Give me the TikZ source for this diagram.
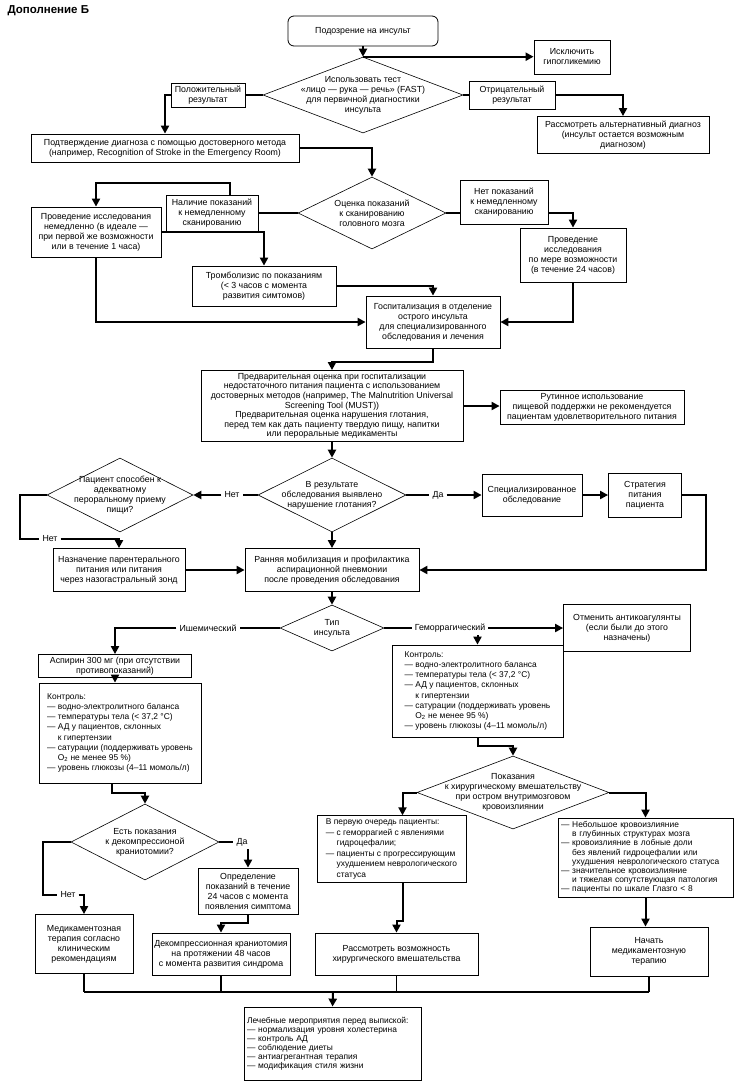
\documentclass[tikz,border=0pt]{standalone}
\usepackage{fontspec}
\setmainfont{Liberation Sans}
\usetikzlibrary{arrows.meta,shapes.geometric}
\newcommand{\cont}{\hphantom{— }}

\begin{document}
\begin{tikzpicture}[x=1pt,y=-1pt,
  font=\fontsize{8.8}{10}\selectfont,
  box/.style={draw,line width=.8pt,fill=white,align=center,inner sep=1pt},
  tag/.style={box},
  lst/.style={draw,line width=.8pt,fill=white,align=left,inner sep=3pt,font=\fontsize{8.4}{10.2}\selectfont},
  dia/.style={draw,diamond,line width=.6pt,inner sep=0pt},
  word/.style={inner sep=3pt},
  conn/.style={line width=2pt},
  thinconn/.style={line width=1.2pt},
  arr/.style={conn,-{Triangle[length=8pt,width=8pt]}}]

  \useasboundingbox (0,0) rectangle (739,1088);

  \node[anchor=west,font=\fontsize{11.5}{13}\selectfont\bfseries] (title) at (4,11) {Дополнение Б};

  \node[box,rounded corners=6pt,minimum width=150pt,minimum height=30pt] (susp) at (363,31) {Подозрение на инсульт};
  \node[dia,minimum width=200pt,minimum height=76pt] (fast) at (363,95) {};
  \node[align=center] (fasttxt) at (fast) {Использовать тест\\«лицо — рука — речь» (FAST)\\для первичной диагностики\\инсульта};
  \node[box,minimum width=76pt,minimum height=34pt] (hypo) at (572,57) {Исключить\\гипогликемию};
  \node[tag,minimum width=74pt,minimum height=24pt] (posl) at (208,95) {Положительный\\результат};
  \node[tag,minimum width=86pt,minimum height=28pt] (negl) at (512,95) {Отрицательный\\результат};
  \node[box,minimum width=172pt,minimum height=37pt] (alt) at (623,135) {Рассмотреть альтернативный диагноз\\(инсульт остается возможным\\диагнозом)};
  \node[box,minimum width=268pt,minimum height=28pt] (confirm) at (165,148) {Подтверждение диагноза с помощью достоверного метода\\(например, Recognition of Stroke in the Emergency Room)};

  \draw[arr] (susp) -- (fast.north);
  \draw[arr] (fast.north) -- (fast.north -| hypo.west);
  \draw[conn] (fast.west) -- (posl);
  \draw[arr] (posl) -| (confirm.north);
  \draw[conn] (fast.east) -- (negl);
  \draw[arr] (negl) -| (alt.north);

  \node[dia,minimum width=148pt,minimum height=72pt] (scan) at (372,213) {};
  \node[align=center] (scantxt) at (scan) {Оценка показаний\\к сканированию\\головного мозга};
  \node[tag,minimum width=92pt,minimum height=36pt] (yesl) at (212,213) {Наличие показаний\\к немедленному\\сканированию};
  \node[tag,minimum width=88pt,minimum height=44pt] (nol) at (504,202) {Нет показаний\\к немедленному\\сканированию};
  \node[box,minimum width=130pt,minimum height=50pt] (imm) at (96,232) {Проведение исследования\\немедленно (в идеале —\\при первой же возможности\\или в течение 1 часа)};
  \node[box,minimum width=144pt,minimum height=40pt] (thromb) at (264,286) {Тромболизис по показаниям\\(< 3 часов с момента\\развития симтомов)};
  \node[box,minimum width=134pt,minimum height=52pt] (hosp) at (433,322) {Госпитализация в отделение\\острого инсульта\\для специализированного\\обследования и лечения};
  \node[box,minimum width=106pt,minimum height=54pt] (later) at (573,255) {Проведение\\исследования\\по мере возможности\\(в течение 24 часов)};

  \draw[arr] (confirm.east) -| (scan.north);
  \draw[conn] (scan.west) -- (yesl);
  \draw[arr] ([xshift=18pt]yesl.north) -- ++(0,-12) -| (imm.north);
  \draw[conn] (scan.east) -- (scan.east -| nol.west);
  \draw[arr] (scan.east -| nol.east) -| (later.north);
  \draw[arr] (imm.east) -| (thromb.north);
  \draw[arr] (thromb.east) -| (hosp.north);
  \draw[arr] (imm.south) |- (hosp.west);
  \draw[arr] (later.south) |- (hosp.east);

  \node[box,minimum width=262pt,minimum height=71pt,font=\fontsize{8.8}{9.6}\selectfont] (prelim) at (332,406) {Предварительная оценка при госпитализации\\недостаточного питания пациента с использованием\\достоверных методов (например, The Malnutrition Universal\\Screening Tool (MUST))\\Предварительная оценка нарушения глотания,\\перед тем как дать пациенту твердую пищу, напитки\\или пероральные медикаменты};
  \node[box,minimum width=184pt,minimum height=34pt] (routine) at (592,407) {Рутинное использование\\пищевой поддержки не рекомендуется\\пациентам удовлетворительного питания};
  \draw[arr] (hosp.south) -- ++(0,14) -| (prelim.north);
  \draw[arr] (prelim.east) -- (prelim.east -| routine.west);

  \node[dia,minimum width=148pt,minimum height=74pt] (swallow) at (332,495) {};
  \node[align=center] (swallowtxt) at (swallow) {В результате\\обследования выявлено\\нарушение глотания?};
  \node[dia,minimum width=146pt,minimum height=74pt] (oral) at (120,495) {};
  \node[align=center] (oraltxt) at (oral) {Пациент способен к\\адекватному\\пероральному приему\\пищи?};
  \node[word] (noA) at (232,495) {Нет};
  \node[word] (yesA) at (438,495) {Да};
  \node[box,minimum width=100pt,minimum height=42pt] (special) at (532,495) {Специализированное\\обследование};
  \node[box,minimum width=73pt,minimum height=44pt] (strat) at (645,495) {Стратегия\\питания\\пациента};
  \node[word] (noB) at (50,539) {Нет};
  \node[box,minimum width=132pt,minimum height=43pt] (parent) at (119,570) {Назначение парентерального\\питания или питания\\через назогастральный зонд};
  \node[box,minimum width=174pt,minimum height=43pt] (early) at (332,570) {Ранняя мобилизация и профилактика\\аспирационной пневмонии\\после проведения обследования};

  \draw[arr] (prelim.south) -- (swallow.north);
  \draw[conn] (swallow.west) -- (noA);
  \draw[arr] (noA) -- (oral.east);
  \draw[conn] (swallow.east) -- (yesA);
  \draw[arr] (yesA) -- (special.west);
  \draw[arr] (special.east) -- (strat.west);
  \draw[arr] (strat.east) -- ++(24,0) |- (early.east);
  \draw[conn] (oral.west) -- ++(-27,0) |- (noB);
  \draw[arr] (noB) -| (parent.north);
  \draw[arr] (parent.east) -- (early.west);
  \draw[arr] (swallow.south) -- (early.north);

  \node[dia,minimum width=104pt,minimum height=46pt] (type) at (332,628) {};
  \node[align=center] (typetxt) at (type) {Тип\\инсульта};
  \node[word] (isch) at (208,628) {Ишемический};
  \node[word] (hem) at (450,628) {Геморрагический};
  \node[box,minimum width=127pt,minimum height=47pt] (cancel) at (627,628) {Отменить антикоагулянты\\(если были до этого\\назначены)};
  \node[box,minimum width=153pt,minimum height=23pt] (asp) at (115,666) {Аспирин 300 мг (при отсутствии\\противопоказаний)};
  \node[lst,minimum width=162pt,minimum height=100pt] (ctl1) at (120,733) {Контроль:\\— водно-электролитного баланса\\— температуры тела (< 37,2 °C)\\— АД у пациентов, склонных\\\cont к гипертензии\\— сатурации (поддерживать уровень\\\cont O\textsubscript{2} не менее 95 \%)\\— уровень глюкозы (4–11 момоль/л)};
  \node[lst,minimum width=171pt,minimum height=92pt] (ctl2) at (477.5,691) {Контроль:\\— водно-электролитного баланса\\— температуры тела (< 37,2 °C)\\— АД у пациентов, склонных\\\cont к гипертензии\\— сатурации (поддерживать уровень\\\cont O\textsubscript{2} не менее 95 \%)\\— уровень глюкозы (4–11 момоль/л)};

  \draw[arr] (early.south) -- (type.north);
  \draw[conn] (type.west) -- (isch);
  \draw[arr] (isch) -| (asp.north);
  \draw[arr] (asp.south) -- (asp.south |- ctl1.north);
  \draw[conn] (type.east) -- (hem);
  \draw[arr] (hem) -- (cancel.west);
  \draw[arr] (ctl2.north |- hem.south) -- (ctl2.north);

  \node[dia,minimum width=148pt,minimum height=76pt] (crani) at (145,842) {};
  \node[align=center] (cranitxt) at (crani) {Есть показания\\к декомпрессионой\\краниотомии?};
  \node[word] (noC) at (68,895) {Нет};
  \node[word] (yesC) at (242,842) {Да};
  \node[box,minimum width=98pt,minimum height=59pt] (med) at (84,944) {Медикаментозная\\терапия согласно\\клиническим\\рекомендациям};
  \node[box,minimum width=100pt,minimum height=46pt] (determ) at (248,891) {Определение\\показаний в течение\\24 часов с момента\\появления симптома};
  \node[box,minimum width=138pt,minimum height=42pt] (decomp) at (221,954) {Декомпрессионная краниотомия\\на протяжении 48 часов\\с момента развития синдрома};

  \draw[arr] ([xshift=-8pt]ctl1.south) -- ++(0,10) -| (crani.north);
  \draw[conn] (crani.west) -- ++(-28,0) |- (noC);
  \draw[arr] (noC) -| (med.north);
  \draw[conn] (crani.east) -- (yesC);
  \draw[arr] (determ.north |- yesC.south) -- (determ.north);
  \draw[arr] (determ.south) -- ++(0,9) -| (decomp.north);

  \node[dia,minimum width=192pt,minimum height=73pt] (surg) at (513,792.5) {};
  \node[align=center] (surgtxt) at (surg) {Показания\\к хирургическому вмешательству\\при остром внутримозговом\\кровоизлиянии};
  \node[lst,minimum width=149pt,minimum height=62pt,font=\fontsize{8.4}{10.6}\selectfont] (first) at (391.5,849) {В первую очередь пациенты:\\— с геморрагией с явлениями\\\cont гидроцефалии;\\— пациенты с прогрессирующим\\\cont ухудшением неврологического\\\cont статуса};
  \node[lst,text width=169pt,minimum height=79pt,font=\fontsize{8.4}{9.2}\selectfont] (small) at (645.5,857.5) {— Небольшое кровоизлияние\\\cont в глубинных структурах мозга\\— кровоизлияние в лобные доли\\\cont без явлений гидроцефалии или\\\cont ухудшения неврологического статуса\\— значительное кровоизлияние\\\cont и тяжелая сопутствующая патология\\— пациенты по шкале Глазго < 8};
  \node[box,minimum width=163pt,minimum height=42pt] (cons) at (396.5,954) {Рассмотреть возможность\\хирургического вмешательства};
  \node[box,minimum width=118pt,minimum height=49pt] (drug) at (649,951.5) {Начать\\медикаментозную\\терапию};

  \draw[arr] (ctl2.south) -- ++(0,9) -| (surg.north);
  \draw[arr] (surg.west) -| ([xshift=11pt]first.north);
  \draw[arr] ([xshift=11pt]first.south) -- ++(0,38) -| (cons.north);
  \draw[arr] (surg.east) -| (small.north);
  \draw[arr] (small.south) -- (small.south |- drug.north);

  \coordinate (merge) at (333,992);
  \node[lst,text width=171pt,minimum height=73pt,font=\fontsize{8.4}{9}\selectfont] (discharge) at (332.5,1043.5) {Лечебные мероприятия перед выпиской:\\— нормализация уровня холестерина\\— контроль АД\\— соблюдение диеты\\— антиагрегантная терапия\\— модификация стиля жизни};
  \draw[thinconn] (med.south) -- (med.south |- merge);
  \draw[thinconn] (decomp.south) -- (decomp.south |- merge);
  \draw[thinconn] (cons.south) -- (cons.south |- merge);
  \draw[thinconn] (drug.south) -- (drug.south |- merge);
  \draw[conn] (med.south |- merge) -- (drug.south |- merge);
  \draw[arr] (merge) -- (discharge.north);
\end{tikzpicture}
\end{document}
